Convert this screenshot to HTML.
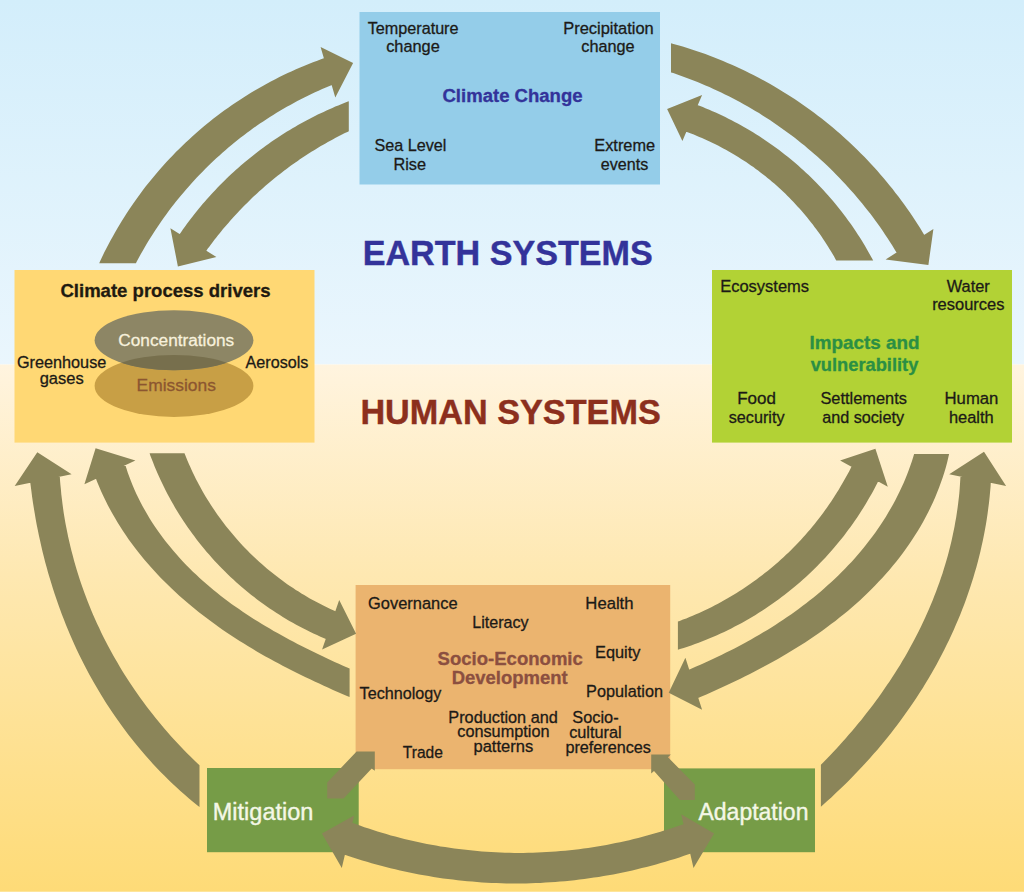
<!DOCTYPE html>
<html><head><meta charset="utf-8"><title>Climate change framework</title>
<style>
html,body{margin:0;padding:0;background:#fff;}
body{width:1024px;height:892px;overflow:hidden;font-family:"Liberation Sans",sans-serif;}
svg{display:block;font-family:"Liberation Sans",sans-serif;}
</style></head><body>
<svg width="1024" height="892" viewBox="0 0 1024 892">
<defs>
<linearGradient id="sky" x1="0" y1="0" x2="0" y2="1">
<stop offset="0" stop-color="#d3eefb"/><stop offset="1" stop-color="#eaf6fd"/>
</linearGradient>
<linearGradient id="sand" x1="0" y1="0" x2="0" y2="1">
<stop offset="0" stop-color="#fff4df"/><stop offset="0.4" stop-color="#fee8b1"/><stop offset="1" stop-color="#fedb77"/>
</linearGradient>
<clipPath id="conc"><ellipse cx="174" cy="340.3" rx="79.4" ry="30"/></clipPath>
</defs>
<rect x="0" y="0" width="1024" height="364.5" fill="url(#sky)"/>
<rect x="0" y="364.5" width="1024" height="527.5" fill="url(#sand)"/>
<rect x="0" y="891" width="1024" height="1" fill="#fee59a"/>
<!-- boxes -->
<rect x="359.5" y="12" width="300.5" height="172.5" fill="#94cde9"/>
<rect x="14.5" y="270" width="300" height="172.6" fill="#ffd874"/>
<rect x="712" y="270" width="300" height="172.6" fill="#b2d235"/>
<rect x="355.6" y="585" width="314.6" height="184.2" fill="#ebb46f"/>
<rect x="207" y="768" width="151.7" height="84.2" fill="#769c47"/>
<rect x="664" y="768.4" width="151" height="83.8" fill="#769c47"/>
<!-- ellipses -->
<ellipse cx="174" cy="385.9" rx="79.4" ry="31" fill="#c89f45"/>
<ellipse cx="174" cy="340.3" rx="79.4" ry="30" fill="#8d8665"/>
<ellipse cx="174" cy="385.9" rx="79.4" ry="31" fill="#776f4d" clip-path="url(#conc)"/>
<!-- arrows -->
<g fill="#8b8559">
<path d="M99.2,263.2 L100.2,260.9 L102.2,256.8 L104.2,252.6 L106.3,248.5 L108.4,244.5 L110.5,240.4 L112.8,236.4 L115.0,232.4 L117.3,228.4 L119.7,224.5 L122.1,220.5 L124.5,216.7 L127.0,212.8 L129.5,209.0 L132.1,205.2 L134.7,201.4 L137.4,197.7 L140.1,193.9 L142.8,190.3 L145.6,186.6 L148.5,183.0 L151.4,179.4 L154.3,175.9 L157.2,172.4 L160.2,168.9 L163.3,165.5 L166.4,162.1 L169.5,158.7 L172.7,155.4 L175.9,152.1 L179.1,148.9 L182.4,145.7 L185.7,142.5 L189.1,139.4 L192.5,136.3 L195.9,133.2 L199.3,130.2 L202.8,127.3 L206.4,124.3 L209.9,121.4 L213.5,118.6 L217.2,115.8 L220.8,113.0 L224.5,110.3 L228.3,107.7 L232.0,105.0 L235.8,102.4 L239.7,99.9 L243.5,97.4 L247.4,95.0 L251.3,92.6 L255.2,90.2 L259.2,87.9 L263.2,85.7 L267.2,83.4 L271.3,81.3 L275.3,79.2 L279.4,77.1 L283.5,75.1 L287.7,73.1 L291.9,71.2 L296.0,69.3 L300.2,67.5 L304.5,65.7 L308.7,64.0 L313.0,62.3 L317.3,60.7 L321.6,59.1 L324.6,58.1 L332.4,84.8 L329.5,86.0 L325.9,87.5 L322.2,89.1 L318.6,90.7 L315.0,92.3 L311.4,94.0 L307.9,95.7 L304.3,97.5 L300.8,99.3 L297.3,101.1 L293.8,103.0 L290.3,104.9 L286.8,106.8 L283.4,108.8 L280.0,110.8 L276.6,112.8 L273.2,114.9 L269.9,117.0 L266.5,119.2 L263.2,121.4 L259.9,123.6 L256.7,125.8 L253.4,128.1 L250.2,130.4 L247.0,132.8 L243.9,135.2 L240.7,137.6 L237.6,140.0 L234.5,142.5 L231.5,145.0 L228.4,147.6 L225.4,150.2 L222.4,152.8 L219.5,155.4 L216.5,158.1 L213.6,160.8 L210.7,163.5 L207.9,166.3 L205.1,169.1 L202.3,171.9 L199.5,174.7 L196.8,177.6 L194.1,180.5 L191.4,183.4 L188.8,186.4 L186.1,189.4 L183.6,192.4 L181.0,195.4 L178.5,198.5 L176.0,201.6 L173.5,204.7 L171.1,207.8 L168.7,211.0 L166.4,214.2 L164.0,217.4 L161.7,220.7 L159.5,223.9 L157.3,227.2 L155.1,230.5 L152.9,233.9 L150.8,237.2 L148.7,240.6 L146.6,244.0 L144.6,247.4 L142.6,250.9 L140.7,254.3 L138.8,257.8 L136.9,261.3 L135.9,263.2Z M320.6,47.0 L353.1,63.0 L335.3,97.5Z"/>
<path d="M348.8,131.2 L347.4,131.9 L344.9,133.1 L342.5,134.3 L340.0,135.6 L337.6,136.8 L335.2,138.1 L332.7,139.4 L330.3,140.7 L327.9,142.0 L325.5,143.4 L323.2,144.7 L320.8,146.1 L318.4,147.5 L316.1,148.9 L313.7,150.4 L311.4,151.8 L309.1,153.3 L306.8,154.8 L304.5,156.3 L302.2,157.8 L299.9,159.3 L297.7,160.9 L295.4,162.4 L293.2,164.0 L291.0,165.6 L288.7,167.2 L286.5,168.9 L284.3,170.5 L282.2,172.2 L280.0,173.9 L277.9,175.6 L275.7,177.3 L273.6,179.0 L271.5,180.8 L269.4,182.5 L267.3,184.3 L265.2,186.1 L263.1,187.9 L261.1,189.7 L259.0,191.5 L257.0,193.4 L255.0,195.3 L253.0,197.1 L251.0,199.0 L249.1,200.9 L247.1,202.9 L245.2,204.8 L243.2,206.7 L241.3,208.7 L239.4,210.7 L237.6,212.7 L235.7,214.7 L233.8,216.7 L232.0,218.8 L230.2,220.8 L228.4,222.9 L226.6,224.9 L224.8,227.0 L223.0,229.1 L221.3,231.3 L219.5,233.4 L217.8,235.5 L216.1,237.7 L214.4,239.8 L212.8,242.0 L211.1,244.2 L209.5,246.4 L207.8,248.6 L206.2,250.9 L205.9,251.4 L179.3,234.7 L179.4,234.5 L181.2,231.9 L183.0,229.3 L184.9,226.7 L186.8,224.1 L188.7,221.5 L190.6,219.0 L192.6,216.5 L194.5,214.0 L196.5,211.5 L198.5,209.0 L200.6,206.5 L202.6,204.1 L204.7,201.7 L206.8,199.3 L208.9,196.9 L211.1,194.5 L213.2,192.2 L215.4,189.9 L217.6,187.5 L219.8,185.3 L222.1,183.0 L224.4,180.7 L226.6,178.5 L228.9,176.3 L231.3,174.1 L233.6,172.0 L236.0,169.8 L238.4,167.7 L240.8,165.6 L243.2,163.5 L245.6,161.5 L248.1,159.4 L250.6,157.4 L253.1,155.4 L255.6,153.5 L258.1,151.5 L260.7,149.6 L263.2,147.7 L265.8,145.8 L268.4,143.9 L271.0,142.1 L273.6,140.3 L276.3,138.5 L279.0,136.8 L281.6,135.0 L284.3,133.3 L287.0,131.6 L289.8,129.9 L292.5,128.3 L295.3,126.7 L298.0,125.1 L300.8,123.5 L303.6,122.0 L306.4,120.4 L309.3,119.0 L312.1,117.5 L315.0,116.0 L317.8,114.6 L320.7,113.2 L323.6,111.9 L326.5,110.5 L329.4,109.2 L332.4,107.9 L335.3,106.6 L338.3,105.4 L341.2,104.2 L344.2,103.0 L347.2,101.8 L348.8,101.2Z M216.4,257.0 L177.9,266.4 L170.4,228.2Z"/>
<path d="M671.0,43.3 L673.5,44.0 L678.1,45.3 L682.7,46.6 L687.3,48.0 L691.8,49.5 L696.3,51.0 L700.9,52.5 L705.4,54.1 L709.8,55.8 L714.3,57.5 L718.7,59.2 L723.1,61.0 L727.5,62.9 L731.9,64.8 L736.3,66.7 L740.6,68.8 L744.9,70.8 L749.2,72.9 L753.4,75.0 L757.7,77.2 L761.9,79.5 L766.1,81.8 L770.2,84.1 L774.4,86.5 L778.5,88.9 L782.5,91.4 L786.6,93.9 L790.6,96.5 L794.6,99.1 L798.6,101.8 L802.5,104.5 L806.4,107.2 L810.3,110.0 L814.1,112.8 L817.9,115.7 L821.7,118.6 L825.4,121.6 L829.1,124.6 L832.8,127.6 L836.5,130.7 L840.1,133.8 L843.6,137.0 L847.2,140.2 L850.7,143.5 L854.1,146.7 L857.5,150.1 L860.9,153.4 L864.3,156.8 L867.6,160.3 L870.8,163.8 L874.1,167.3 L877.3,170.8 L880.4,174.4 L883.5,178.0 L886.6,181.7 L889.6,185.4 L892.6,189.1 L895.5,192.9 L898.4,196.6 L901.3,200.5 L904.1,204.3 L906.9,208.2 L909.6,212.1 L912.3,216.1 L914.9,220.1 L917.5,224.1 L920.1,228.1 L922.6,232.2 L924.6,235.5 L897.0,253.2 L896.8,252.9 L894.5,249.2 L892.3,245.5 L890.0,241.9 L887.6,238.3 L885.2,234.7 L882.8,231.1 L880.4,227.5 L877.9,224.0 L875.3,220.5 L872.8,217.1 L870.2,213.6 L867.5,210.2 L864.9,206.9 L862.2,203.5 L859.4,200.2 L856.7,196.9 L853.8,193.6 L851.0,190.4 L848.1,187.2 L845.2,184.0 L842.3,180.9 L839.3,177.7 L836.3,174.7 L833.2,171.6 L830.2,168.6 L827.1,165.6 L823.9,162.6 L820.8,159.7 L817.6,156.8 L814.3,154.0 L811.1,151.2 L807.8,148.4 L804.5,145.6 L801.1,142.9 L797.8,140.2 L794.4,137.6 L791.0,135.0 L787.5,132.4 L784.0,129.9 L780.5,127.4 L777.0,124.9 L773.4,122.5 L769.9,120.1 L766.2,117.7 L762.6,115.4 L759.0,113.1 L755.3,110.9 L751.6,108.7 L747.9,106.5 L744.1,104.4 L740.3,102.3 L736.5,100.3 L732.7,98.3 L728.9,96.3 L725.0,94.4 L721.2,92.5 L717.3,90.7 L713.4,88.9 L709.4,87.1 L705.5,85.4 L701.5,83.7 L697.5,82.1 L693.5,80.5 L689.5,78.9 L685.5,77.4 L681.4,75.9 L677.3,74.5 L673.3,73.1 L671.0,72.4Z M933.4,228.9 L928.4,265.0 L885.6,259.5Z"/>
<path d="M836.3,260.6 L835.5,259.2 L834.1,256.6 L832.6,254.1 L831.1,251.5 L829.5,249.0 L828.0,246.4 L826.4,243.9 L824.8,241.5 L823.1,239.0 L821.5,236.5 L819.8,234.1 L818.1,231.7 L816.3,229.3 L814.5,226.9 L812.8,224.5 L810.9,222.2 L809.1,219.9 L807.2,217.6 L805.3,215.3 L803.4,213.0 L801.5,210.8 L799.5,208.6 L797.5,206.4 L795.5,204.2 L793.5,202.0 L791.5,199.9 L789.4,197.8 L787.3,195.7 L785.2,193.6 L783.0,191.6 L780.9,189.6 L778.7,187.6 L776.5,185.6 L774.3,183.6 L772.0,181.7 L769.8,179.8 L767.5,177.9 L765.2,176.1 L762.8,174.2 L760.5,172.4 L758.1,170.6 L755.8,168.9 L753.4,167.1 L750.9,165.4 L748.5,163.7 L746.1,162.1 L743.6,160.5 L741.1,158.9 L738.6,157.3 L736.1,155.7 L733.6,154.2 L731.0,152.7 L728.4,151.2 L725.9,149.8 L723.3,148.4 L720.6,147.0 L718.0,145.6 L715.4,144.3 L712.7,143.0 L710.1,141.7 L707.4,140.4 L704.7,139.2 L702.0,138.0 L699.3,136.9 L696.5,135.7 L693.8,134.6 L691.0,133.5 L688.3,132.5 L685.6,131.5 L697.0,104.9 L699.5,105.8 L702.8,107.1 L706.0,108.4 L709.3,109.8 L712.5,111.2 L715.7,112.6 L718.9,114.1 L722.1,115.6 L725.3,117.1 L728.4,118.7 L731.6,120.2 L734.7,121.9 L737.8,123.5 L740.9,125.2 L743.9,127.0 L747.0,128.7 L750.0,130.5 L753.0,132.3 L756.0,134.2 L759.0,136.1 L761.9,138.0 L764.8,139.9 L767.7,141.9 L770.6,143.9 L773.5,146.0 L776.3,148.0 L779.1,150.1 L781.9,152.2 L784.7,154.4 L787.4,156.6 L790.2,158.8 L792.9,161.0 L795.6,163.3 L798.2,165.6 L800.8,167.9 L803.4,170.3 L806.0,172.7 L808.6,175.1 L811.1,177.5 L813.6,180.0 L816.1,182.5 L818.5,185.0 L820.9,187.5 L823.3,190.1 L825.7,192.7 L828.0,195.3 L830.4,197.9 L832.6,200.6 L834.9,203.3 L837.1,206.0 L839.3,208.7 L841.5,211.5 L843.6,214.3 L845.7,217.1 L847.8,219.9 L849.9,222.8 L851.9,225.6 L853.9,228.5 L855.9,231.5 L857.8,234.4 L859.7,237.3 L861.6,240.3 L863.4,243.3 L865.2,246.3 L867.0,249.4 L868.7,252.4 L870.4,255.5 L872.1,258.6 L873.2,260.6Z M682.4,141.1 L667.1,109.0 L702.1,95.1Z"/>
<path d="M184.5,453.3 L185.2,455.0 L186.4,458.0 L187.6,461.1 L188.9,464.1 L190.3,467.1 L191.6,470.1 L193.0,473.0 L194.5,476.0 L195.9,478.9 L197.4,481.8 L199.0,484.8 L200.5,487.6 L202.1,490.5 L203.8,493.4 L205.4,496.2 L207.1,499.0 L208.9,501.8 L210.6,504.6 L212.4,507.3 L214.3,510.0 L216.1,512.7 L218.0,515.4 L219.9,518.1 L221.9,520.7 L223.8,523.3 L225.8,525.9 L227.9,528.5 L230.0,531.1 L232.1,533.6 L234.2,536.1 L236.3,538.6 L238.5,541.0 L240.7,543.5 L243.0,545.9 L245.2,548.2 L247.5,550.6 L249.8,552.9 L252.2,555.2 L254.6,557.5 L257.0,559.7 L259.4,561.9 L261.8,564.1 L264.3,566.3 L266.8,568.4 L269.3,570.5 L271.9,572.6 L274.4,574.6 L277.0,576.6 L279.6,578.6 L282.3,580.6 L284.9,582.5 L287.6,584.4 L290.3,586.2 L293.1,588.1 L295.8,589.9 L298.6,591.6 L301.4,593.4 L304.2,595.1 L307.0,596.7 L309.8,598.4 L312.7,600.0 L315.6,601.5 L318.5,603.1 L321.4,604.6 L324.3,606.1 L327.3,607.5 L330.3,608.9 L333.2,610.3 L336.0,611.5 L326.5,639.2 L324.1,638.2 L320.5,636.7 L317.0,635.1 L313.4,633.4 L309.9,631.8 L306.5,630.1 L303.0,628.3 L299.6,626.5 L296.2,624.7 L292.8,622.8 L289.4,620.9 L286.1,618.9 L282.8,616.9 L279.5,614.8 L276.2,612.8 L272.9,610.6 L269.7,608.5 L266.5,606.3 L263.4,604.0 L260.2,601.8 L257.1,599.4 L254.1,597.1 L251.0,594.7 L248.0,592.3 L245.0,589.8 L242.0,587.3 L239.1,584.8 L236.2,582.2 L233.4,579.6 L230.5,577.0 L227.7,574.3 L225.0,571.6 L222.2,568.8 L219.5,566.1 L216.9,563.2 L214.2,560.4 L211.6,557.5 L209.1,554.6 L206.5,551.7 L204.1,548.7 L201.6,545.7 L199.2,542.7 L196.8,539.7 L194.5,536.6 L192.2,533.5 L189.9,530.3 L187.7,527.2 L185.5,524.0 L183.3,520.8 L181.2,517.5 L179.1,514.3 L177.1,511.0 L175.1,507.7 L173.2,504.3 L171.3,501.0 L169.4,497.6 L167.6,494.2 L165.8,490.7 L164.1,487.3 L162.4,483.8 L160.7,480.3 L159.1,476.8 L157.5,473.3 L156.0,469.7 L154.5,466.2 L153.1,462.6 L151.7,459.0 L150.3,455.4 L149.6,453.3Z M339.2,599.9 L356.1,633.8 L322.1,649.5Z"/>
<path d="M349.6,697.1 L347.0,696.0 L342.3,693.9 L337.7,691.9 L333.0,689.9 L328.4,687.8 L323.8,685.7 L319.2,683.6 L314.6,681.5 L310.1,679.3 L305.6,677.2 L301.0,675.0 L296.5,672.8 L292.0,670.5 L287.6,668.2 L283.1,665.9 L278.7,663.6 L274.3,661.2 L269.9,658.8 L265.5,656.4 L261.1,653.9 L256.8,651.4 L252.5,648.8 L248.2,646.2 L243.9,643.6 L239.6,641.0 L235.4,638.3 L231.2,635.5 L227.0,632.7 L222.9,629.9 L218.7,627.0 L214.7,624.1 L210.6,621.1 L206.6,618.1 L202.6,615.1 L198.6,611.9 L194.7,608.8 L190.8,605.6 L186.9,602.3 L183.1,599.0 L179.3,595.7 L175.6,592.3 L171.9,588.8 L168.3,585.3 L164.7,581.8 L161.1,578.2 L157.6,574.5 L154.2,570.8 L150.8,567.1 L147.5,563.2 L144.2,559.4 L141.0,555.5 L137.8,551.5 L134.7,547.5 L131.7,543.5 L128.7,539.4 L125.9,535.2 L123.0,531.0 L120.3,526.8 L117.6,522.5 L115.0,518.1 L112.5,513.7 L110.0,509.3 L107.7,504.9 L105.4,500.3 L103.2,495.8 L101.1,491.2 L99.1,486.6 L97.2,481.9 L95.7,478.1 L125.2,464.4 L126.4,468.3 L127.8,472.7 L129.4,477.0 L131.0,481.3 L132.7,485.6 L134.5,489.8 L136.4,494.0 L138.4,498.1 L140.5,502.2 L142.6,506.3 L144.9,510.3 L147.2,514.3 L149.5,518.3 L152.0,522.2 L154.5,526.0 L157.1,529.8 L159.8,533.6 L162.5,537.3 L165.3,541.0 L168.2,544.6 L171.1,548.1 L174.0,551.6 L177.1,555.1 L180.1,558.5 L183.3,561.9 L186.4,565.2 L189.7,568.5 L192.9,571.7 L196.3,574.8 L199.6,578.0 L203.0,581.0 L206.5,584.1 L210.0,587.0 L213.5,589.9 L217.0,592.8 L220.6,595.7 L224.2,598.4 L227.9,601.2 L231.5,603.9 L235.2,606.5 L239.0,609.1 L242.7,611.7 L246.5,614.2 L250.3,616.7 L254.1,619.2 L258.0,621.6 L261.9,624.0 L265.7,626.3 L269.7,628.6 L273.6,630.9 L277.5,633.1 L281.5,635.3 L285.5,637.5 L289.5,639.7 L293.5,641.8 L297.5,643.9 L301.6,646.0 L305.6,648.0 L309.7,650.1 L313.8,652.1 L317.9,654.1 L322.1,656.0 L326.2,658.0 L330.4,659.9 L334.6,661.9 L338.8,663.8 L343.0,665.7 L347.2,667.6 L349.6,668.6Z M84.4,484.2 L95.6,448.2 L135.4,460.6Z"/>
<path d="M199.5,807.0 L197.2,805.2 L192.9,801.7 L188.7,798.2 L184.5,794.6 L180.4,790.9 L176.4,787.2 L172.3,783.5 L168.4,779.7 L164.5,775.8 L160.6,771.9 L156.8,767.9 L153.0,763.9 L149.3,759.8 L145.7,755.7 L142.1,751.5 L138.5,747.3 L135.0,743.1 L131.6,738.8 L128.2,734.4 L124.9,730.0 L121.6,725.6 L118.4,721.1 L115.2,716.6 L112.1,712.1 L109.1,707.5 L106.1,702.9 L103.2,698.2 L100.3,693.5 L97.5,688.8 L94.7,684.1 L92.0,679.3 L89.3,674.4 L86.7,669.6 L84.2,664.7 L81.7,659.8 L79.3,654.9 L76.9,649.9 L74.6,644.9 L72.4,639.9 L70.2,634.9 L68.0,629.8 L65.9,624.7 L63.9,619.6 L61.9,614.5 L60.0,609.3 L58.2,604.2 L56.4,599.0 L54.6,593.8 L52.9,588.6 L51.3,583.3 L49.7,578.1 L48.1,572.8 L46.7,567.5 L45.2,562.2 L43.9,556.9 L42.5,551.5 L41.3,546.2 L40.1,540.8 L38.9,535.5 L37.8,530.1 L36.7,524.7 L35.7,519.3 L34.8,513.8 L33.9,508.4 L33.0,503.0 L32.2,497.5 L31.5,492.1 L30.8,486.6 L30.2,482.1 L59.8,475.9 L60.0,480.0 L60.4,484.7 L60.9,489.5 L61.3,494.3 L61.9,499.1 L62.5,503.9 L63.1,508.6 L63.8,513.4 L64.6,518.2 L65.4,522.9 L66.3,527.6 L67.3,532.4 L68.2,537.1 L69.3,541.8 L70.4,546.5 L71.5,551.1 L72.8,555.8 L74.0,560.4 L75.3,565.1 L76.7,569.7 L78.1,574.3 L79.6,578.9 L81.1,583.5 L82.7,588.0 L84.3,592.5 L86.0,597.1 L87.7,601.5 L89.5,606.0 L91.3,610.5 L93.2,614.9 L95.1,619.3 L97.1,623.7 L99.2,628.1 L101.2,632.4 L103.3,636.7 L105.5,641.0 L107.7,645.3 L110.0,649.6 L112.3,653.8 L114.7,658.0 L117.1,662.1 L119.5,666.3 L122.0,670.4 L124.5,674.5 L127.1,678.6 L129.7,682.6 L132.4,686.6 L135.1,690.6 L137.9,694.5 L140.7,698.4 L143.5,702.3 L146.4,706.2 L149.3,710.0 L152.3,713.8 L155.2,717.6 L158.3,721.3 L161.4,725.0 L164.5,728.7 L167.6,732.3 L170.8,735.9 L174.0,739.5 L177.3,743.0 L180.6,746.5 L183.9,750.0 L187.3,753.4 L190.7,756.8 L194.2,760.2 L197.6,763.5 L199.5,765.3Z M14.7,486.1 L37.3,452.2 L71.6,474.3Z"/>
<path d="M677.9,621.5 L679.7,620.9 L683.0,619.6 L686.3,618.4 L689.5,617.1 L692.7,615.7 L696.0,614.3 L699.2,612.9 L702.3,611.5 L705.5,610.0 L708.7,608.4 L711.8,606.9 L714.9,605.3 L718.0,603.7 L721.1,602.0 L724.1,600.3 L727.2,598.6 L730.2,596.8 L733.2,595.0 L736.2,593.2 L739.2,591.3 L742.1,589.4 L745.0,587.5 L747.9,585.5 L750.8,583.5 L753.6,581.5 L756.5,579.4 L759.3,577.3 L762.1,575.2 L764.8,573.1 L767.6,570.9 L770.3,568.7 L773.0,566.4 L775.6,564.2 L778.3,561.9 L780.9,559.5 L783.5,557.2 L786.0,554.8 L788.6,552.4 L791.1,549.9 L793.5,547.4 L796.0,544.9 L798.4,542.4 L800.8,539.9 L803.2,537.3 L805.5,534.7 L807.8,532.0 L810.1,529.4 L812.3,526.7 L814.6,524.0 L816.7,521.2 L818.9,518.5 L821.0,515.7 L823.1,512.9 L825.2,510.1 L827.2,507.2 L829.2,504.3 L831.2,501.4 L833.1,498.5 L835.0,495.6 L836.9,492.6 L838.7,489.7 L840.5,486.6 L842.3,483.6 L844.0,480.6 L845.7,477.5 L847.4,474.4 L849.1,471.4 L850.7,468.2 L851.7,466.1 L878.5,480.7 L877.2,483.2 L875.4,486.7 L873.6,490.2 L871.7,493.7 L869.7,497.1 L867.7,500.5 L865.7,503.9 L863.7,507.3 L861.6,510.6 L859.4,513.9 L857.3,517.2 L855.0,520.5 L852.8,523.7 L850.5,526.9 L848.1,530.1 L845.8,533.2 L843.4,536.4 L840.9,539.5 L838.4,542.5 L835.9,545.6 L833.4,548.6 L830.8,551.5 L828.1,554.5 L825.5,557.4 L822.8,560.3 L820.1,563.1 L817.3,566.0 L814.5,568.7 L811.7,571.5 L808.8,574.2 L805.9,576.9 L803.0,579.6 L800.0,582.2 L797.0,584.7 L794.0,587.3 L790.9,589.8 L787.8,592.3 L784.7,594.7 L781.6,597.1 L778.4,599.5 L775.2,601.8 L772.0,604.1 L768.7,606.3 L765.5,608.5 L762.1,610.7 L758.8,612.8 L755.5,614.9 L752.1,617.0 L748.7,619.0 L745.2,620.9 L741.8,622.9 L738.3,624.8 L734.8,626.6 L731.3,628.4 L727.7,630.2 L724.2,631.9 L720.6,633.6 L717.0,635.2 L713.4,636.8 L709.7,638.3 L706.1,639.8 L702.4,641.3 L698.7,642.7 L695.0,644.1 L691.2,645.4 L687.5,646.7 L683.7,647.9 L680.0,649.1 L677.9,649.8Z M840.1,460.6 L875.4,448.8 L887.8,486.7Z"/>
<path d="M949.1,454.0 L948.4,457.0 L947.2,462.2 L945.8,467.4 L944.3,472.5 L942.7,477.6 L940.9,482.6 L939.1,487.6 L937.1,492.6 L935.1,497.5 L932.9,502.4 L930.6,507.3 L928.3,512.1 L925.8,516.8 L923.3,521.5 L920.6,526.2 L917.9,530.8 L915.0,535.3 L912.1,539.8 L909.1,544.3 L906.1,548.6 L902.9,553.0 L899.7,557.2 L896.4,561.5 L893.0,565.6 L889.6,569.7 L886.0,573.7 L882.5,577.7 L878.8,581.6 L875.1,585.5 L871.4,589.3 L867.6,593.1 L863.7,596.7 L859.8,600.4 L855.8,603.9 L851.8,607.4 L847.8,610.9 L843.7,614.3 L839.5,617.6 L835.4,620.9 L831.1,624.1 L826.9,627.3 L822.6,630.4 L818.3,633.5 L813.9,636.5 L809.5,639.5 L805.1,642.4 L800.6,645.2 L796.1,648.1 L791.6,650.8 L787.1,653.6 L782.5,656.2 L777.9,658.9 L773.3,661.5 L768.7,664.1 L764.0,666.6 L759.3,669.1 L754.6,671.5 L749.9,673.9 L745.2,676.3 L740.4,678.7 L735.6,681.0 L730.8,683.3 L726.0,685.6 L721.1,687.8 L716.2,690.0 L711.3,692.2 L706.4,694.4 L701.5,696.6 L697.5,698.2 L688.4,669.9 L691.7,668.5 L696.1,666.6 L700.4,664.7 L704.8,662.8 L709.1,660.8 L713.4,658.8 L717.6,656.8 L721.9,654.7 L726.1,652.6 L730.4,650.5 L734.5,648.4 L738.7,646.2 L742.9,644.0 L747.0,641.7 L751.1,639.4 L755.2,637.1 L759.3,634.7 L763.3,632.3 L767.4,629.9 L771.4,627.4 L775.3,624.9 L779.3,622.3 L783.2,619.7 L787.1,617.1 L791.0,614.4 L794.8,611.7 L798.6,608.9 L802.4,606.1 L806.2,603.2 L809.9,600.3 L813.6,597.4 L817.2,594.4 L820.8,591.4 L824.4,588.3 L827.9,585.1 L831.4,581.9 L834.9,578.7 L838.3,575.4 L841.7,572.1 L845.0,568.7 L848.2,565.3 L851.5,561.9 L854.6,558.4 L857.8,554.8 L860.8,551.2 L863.9,547.5 L866.8,543.8 L869.7,540.1 L872.6,536.3 L875.4,532.5 L878.1,528.6 L880.7,524.7 L883.3,520.7 L885.9,516.7 L888.3,512.6 L890.7,508.6 L893.0,504.4 L895.3,500.3 L897.4,496.0 L899.5,491.8 L901.5,487.5 L903.5,483.2 L905.3,478.9 L907.1,474.5 L908.8,470.1 L910.4,465.6 L911.9,461.2 L913.3,456.7 L914.1,454.0Z M702.1,709.8 L668.7,692.7 L685.4,657.8Z"/>
<path d="M820.9,764.7 L822.7,762.9 L826.1,759.4 L829.5,756.0 L832.8,752.5 L836.1,749.0 L839.3,745.4 L842.6,741.8 L845.8,738.2 L848.9,734.6 L852.1,731.0 L855.2,727.3 L858.2,723.6 L861.3,719.9 L864.3,716.1 L867.2,712.3 L870.2,708.5 L873.1,704.7 L876.0,700.8 L878.8,697.0 L881.6,693.0 L884.3,689.1 L887.0,685.1 L889.7,681.2 L892.4,677.1 L895.0,673.1 L897.5,669.0 L900.1,664.9 L902.5,660.8 L905.0,656.7 L907.4,652.5 L909.7,648.3 L912.0,644.1 L914.3,639.8 L916.5,635.6 L918.7,631.3 L920.8,626.9 L922.9,622.6 L924.9,618.2 L926.9,613.8 L928.8,609.4 L930.7,605.0 L932.6,600.5 L934.3,596.1 L936.1,591.6 L937.7,587.0 L939.4,582.5 L940.9,578.0 L942.5,573.4 L943.9,568.8 L945.3,564.2 L946.7,559.5 L948.0,554.9 L949.2,550.2 L950.4,545.6 L951.5,540.9 L952.5,536.2 L953.5,531.4 L954.5,526.7 L955.3,522.0 L956.2,517.2 L956.9,512.5 L957.6,507.7 L958.2,502.9 L958.8,498.1 L959.3,493.4 L959.7,488.6 L960.0,483.8 L960.3,479.0 L960.5,475.8 L990.8,482.1 L990.6,486.2 L990.1,491.7 L989.6,497.2 L989.0,502.7 L988.3,508.1 L987.6,513.6 L986.8,519.0 L985.9,524.5 L984.9,529.9 L983.9,535.3 L982.8,540.7 L981.6,546.1 L980.4,551.5 L979.1,556.8 L977.7,562.2 L976.3,567.5 L974.7,572.8 L973.2,578.1 L971.5,583.3 L969.8,588.6 L968.0,593.8 L966.2,599.0 L964.3,604.2 L962.3,609.3 L960.3,614.4 L958.2,619.5 L956.0,624.6 L953.8,629.7 L951.5,634.7 L949.2,639.7 L946.8,644.6 L944.4,649.6 L941.8,654.5 L939.3,659.3 L936.7,664.2 L934.0,669.0 L931.3,673.8 L928.5,678.5 L925.6,683.2 L922.8,687.9 L919.8,692.6 L916.8,697.2 L913.8,701.8 L910.7,706.3 L907.5,710.8 L904.3,715.3 L901.1,719.8 L897.8,724.2 L894.5,728.6 L891.1,732.9 L887.7,737.2 L884.2,741.5 L880.7,745.7 L877.2,749.9 L873.5,754.1 L869.9,758.2 L866.2,762.3 L862.5,766.3 L858.7,770.3 L854.9,774.3 L851.1,778.2 L847.2,782.2 L843.3,786.0 L839.3,789.8 L835.3,793.6 L831.3,797.4 L827.2,801.1 L823.1,804.8 L820.9,806.7Z M949.2,474.3 L984.0,451.8 L1006.1,486.1Z"/>
<path d="M351.6,822.6 L355.6,824.1 L359.9,825.6 L364.3,827.2 L368.7,828.6 L373.1,830.1 L377.5,831.5 L381.9,832.8 L386.4,834.1 L390.8,835.4 L395.3,836.6 L399.8,837.8 L404.3,838.9 L408.8,840.0 L413.3,841.0 L417.8,842.0 L422.3,843.0 L426.9,843.9 L431.4,844.8 L436.0,845.6 L440.5,846.4 L445.1,847.1 L449.7,847.8 L454.3,848.4 L458.9,849.1 L463.5,849.6 L468.1,850.1 L472.7,850.6 L477.3,851.0 L481.9,851.4 L486.5,851.8 L491.1,852.0 L495.8,852.3 L500.4,852.5 L505.0,852.7 L509.6,852.8 L514.3,852.9 L518.9,852.9 L523.5,852.9 L528.2,852.8 L532.8,852.7 L537.4,852.5 L542.1,852.3 L546.7,852.1 L551.3,851.8 L555.9,851.5 L560.6,851.1 L565.2,850.7 L569.8,850.2 L574.4,849.7 L579.0,849.2 L583.6,848.6 L588.2,847.9 L592.8,847.2 L597.3,846.5 L601.9,845.7 L606.5,844.9 L611.0,844.1 L615.6,843.1 L620.1,842.2 L624.6,841.2 L629.2,840.2 L633.7,839.1 L638.2,838.0 L642.7,836.8 L647.1,835.6 L651.6,834.3 L656.0,833.0 L660.5,831.7 L664.9,830.3 L669.3,828.9 L673.7,827.4 L678.1,825.9 L682.5,824.4 L684.2,823.7 L691.0,853.4 L688.6,854.2 L684.0,855.8 L679.4,857.4 L674.7,858.9 L670.0,860.3 L665.4,861.7 L660.7,863.1 L656.0,864.4 L651.3,865.7 L646.6,866.9 L641.8,868.1 L637.1,869.3 L632.3,870.4 L627.6,871.5 L622.8,872.5 L618.0,873.4 L613.2,874.4 L608.4,875.3 L603.6,876.1 L598.8,876.9 L594.0,877.6 L589.1,878.3 L584.3,879.0 L579.4,879.6 L574.6,880.2 L569.7,880.7 L564.9,881.2 L560.0,881.6 L555.2,882.0 L550.3,882.3 L545.4,882.6 L540.5,882.9 L535.7,883.1 L530.8,883.3 L525.9,883.4 L521.0,883.4 L516.1,883.5 L511.3,883.4 L506.4,883.4 L501.5,883.3 L496.6,883.1 L491.7,882.9 L486.9,882.7 L482.0,882.4 L477.1,882.0 L472.3,881.6 L467.4,881.2 L462.6,880.7 L457.7,880.2 L452.9,879.6 L448.0,879.0 L443.2,878.4 L438.3,877.7 L433.5,876.9 L428.7,876.1 L423.9,875.3 L419.1,874.4 L414.3,873.5 L409.5,872.5 L404.8,871.5 L400.0,870.4 L395.2,869.3 L390.5,868.2 L385.8,867.0 L381.1,865.8 L376.3,864.5 L371.6,863.2 L367.0,861.8 L362.3,860.4 L357.6,858.9 L353.0,857.4 L348.4,855.9 L344.1,854.4Z M341.8,867.9 L321.9,833.5 L354.1,815.6Z M681.2,814.2 L714.1,833.5 L693.5,867.9Z"/>
<path d="M356.6,751.4 L374.8,751.4 L374.8,770.8 L371.7,768.5 L343.6,798.6 L327.2,798.6 L327.2,782.6Z"/>
<path d="M651.2,754.5 L670.8,754.5 L668.0,757.3 L694.8,784.5 L694.8,799.9 L679.9,799.9 L654.0,771.0 L651.2,773.6Z"/>
</g>
<g>
<text x="367.68" y="34.2" font-size="16.7" fill="#1c1a17" stroke="#1c1a17" stroke-width="0.30" textLength="90.85" lengthAdjust="spacingAndGlyphs">Temperature</text>
<text x="386.15" y="52.3" font-size="16.7" fill="#1c1a17" stroke="#1c1a17" stroke-width="0.30" textLength="53.62" lengthAdjust="spacingAndGlyphs">change</text>
<text x="563.18" y="34.2" font-size="16.7" fill="#1c1a17" stroke="#1c1a17" stroke-width="0.30" textLength="90.56" lengthAdjust="spacingAndGlyphs">Precipitation</text>
<text x="581.35" y="52.3" font-size="16.7" fill="#1c1a17" stroke="#1c1a17" stroke-width="0.30" textLength="53.31" lengthAdjust="spacingAndGlyphs">change</text>
<text x="442.46" y="101.8" font-size="17.5" font-weight="bold" fill="#33339a" stroke="#33339a" stroke-width="0.30" textLength="140.14" lengthAdjust="spacingAndGlyphs">Climate Change</text>
<text x="374.47" y="151.4" font-size="16.7" fill="#1c1a17" stroke="#1c1a17" stroke-width="0.30" textLength="71.84" lengthAdjust="spacingAndGlyphs">Sea Level</text>
<text x="393.39" y="169.9" font-size="16.7" fill="#1c1a17" stroke="#1c1a17" stroke-width="0.30" textLength="32.67" lengthAdjust="spacingAndGlyphs">Rise</text>
<text x="594.29" y="151.4" font-size="16.7" fill="#1c1a17" stroke="#1c1a17" stroke-width="0.30" textLength="60.81" lengthAdjust="spacingAndGlyphs">Extreme</text>
<text x="600.76" y="169.9" font-size="16.7" fill="#1c1a17" stroke="#1c1a17" stroke-width="0.30" textLength="47.43" lengthAdjust="spacingAndGlyphs">events</text>
<text x="362.68" y="264.8" font-size="34.4" font-weight="bold" fill="#33339a" stroke="#33339a" stroke-width="0.40" textLength="289.96" lengthAdjust="spacingAndGlyphs">EARTH SYSTEMS</text>
<text x="360.38" y="423.5" font-size="34.4" font-weight="bold" fill="#8c2f1d" stroke="#8c2f1d" stroke-width="0.40" textLength="300.35" lengthAdjust="spacingAndGlyphs">HUMAN SYSTEMS</text>
<text x="60.46" y="296.9" font-size="17.8" font-weight="bold" fill="#1f1a10" stroke="#1f1a10" stroke-width="0.30" textLength="210.17" lengthAdjust="spacingAndGlyphs">Climate process drivers</text>
<text x="118.34" y="345.9" font-size="17.3" fill="#f7f1dc" stroke="#f7f1dc" stroke-width="0.30" textLength="115.89" lengthAdjust="spacingAndGlyphs">Concentrations</text>
<text x="136.61" y="391.0" font-size="17.3" fill="#8c5630" stroke="#8c5630" stroke-width="0.30" textLength="79.33" lengthAdjust="spacingAndGlyphs">Emissions</text>
<text x="16.89" y="368.4" font-size="16.7" fill="#1c1a17" stroke="#1c1a17" stroke-width="0.30" textLength="89.45" lengthAdjust="spacingAndGlyphs">Greenhouse</text>
<text x="39.64" y="383.8" font-size="16.7" fill="#1c1a17" stroke="#1c1a17" stroke-width="0.30" textLength="44.01" lengthAdjust="spacingAndGlyphs">gases</text>
<text x="245.60" y="368.4" font-size="16.7" fill="#1c1a17" stroke="#1c1a17" stroke-width="0.30" textLength="62.78" lengthAdjust="spacingAndGlyphs">Aerosols</text>
<text x="720.18" y="292.0" font-size="16.7" fill="#1c1a17" stroke="#1c1a17" stroke-width="0.30" textLength="88.90" lengthAdjust="spacingAndGlyphs">Ecosystems</text>
<text x="946.80" y="292.0" font-size="16.7" fill="#1c1a17" stroke="#1c1a17" stroke-width="0.30" textLength="42.94" lengthAdjust="spacingAndGlyphs">Water</text>
<text x="932.13" y="310.4" font-size="16.7" fill="#1c1a17" stroke="#1c1a17" stroke-width="0.30" textLength="72.26" lengthAdjust="spacingAndGlyphs">resources</text>
<text x="809.47" y="349.3" font-size="17.8" font-weight="bold" fill="#2b8f44" stroke="#2b8f44" stroke-width="0.30" textLength="110.05" lengthAdjust="spacingAndGlyphs">Impacts and</text>
<text x="810.70" y="370.5" font-size="17.8" font-weight="bold" fill="#2b8f44" stroke="#2b8f44" stroke-width="0.30" textLength="107.61" lengthAdjust="spacingAndGlyphs">vulnerability</text>
<text x="737.24" y="404.3" font-size="16.7" fill="#1c1a17" stroke="#1c1a17" stroke-width="0.30" textLength="38.77" lengthAdjust="spacingAndGlyphs">Food</text>
<text x="728.70" y="422.7" font-size="16.7" fill="#1c1a17" stroke="#1c1a17" stroke-width="0.30" textLength="55.81" lengthAdjust="spacingAndGlyphs">security</text>
<text x="820.46" y="404.3" font-size="16.7" fill="#1c1a17" stroke="#1c1a17" stroke-width="0.30" textLength="86.42" lengthAdjust="spacingAndGlyphs">Settlements</text>
<text x="822.15" y="422.7" font-size="16.7" fill="#1c1a17" stroke="#1c1a17" stroke-width="0.30" textLength="81.93" lengthAdjust="spacingAndGlyphs">and society</text>
<text x="944.56" y="404.3" font-size="16.7" fill="#1c1a17" stroke="#1c1a17" stroke-width="0.30" textLength="53.82" lengthAdjust="spacingAndGlyphs">Human</text>
<text x="948.93" y="422.7" font-size="16.7" fill="#1c1a17" stroke="#1c1a17" stroke-width="0.30" textLength="44.75" lengthAdjust="spacingAndGlyphs">health</text>
<text x="368.08" y="609.0" font-size="16.7" fill="#1c1a17" stroke="#1c1a17" stroke-width="0.30" textLength="89.53" lengthAdjust="spacingAndGlyphs">Governance</text>
<text x="585.37" y="609.0" font-size="16.7" fill="#1c1a17" stroke="#1c1a17" stroke-width="0.30" textLength="48.14" lengthAdjust="spacingAndGlyphs">Health</text>
<text x="472.21" y="627.9" font-size="16.7" fill="#1c1a17" stroke="#1c1a17" stroke-width="0.30" textLength="56.41" lengthAdjust="spacingAndGlyphs">Literacy</text>
<text x="437.54" y="664.8" font-size="18.0" font-weight="bold" fill="#8b4f40" stroke="#8b4f40" stroke-width="0.30" textLength="145.32" lengthAdjust="spacingAndGlyphs">Socio-Economic</text>
<text x="451.70" y="684.4" font-size="18.0" font-weight="bold" fill="#8b4f40" stroke="#8b4f40" stroke-width="0.30" textLength="115.87" lengthAdjust="spacingAndGlyphs">Development</text>
<text x="594.99" y="657.8" font-size="16.7" fill="#1c1a17" stroke="#1c1a17" stroke-width="0.30" textLength="45.50" lengthAdjust="spacingAndGlyphs">Equity</text>
<text x="359.58" y="698.6" font-size="16.7" fill="#1c1a17" stroke="#1c1a17" stroke-width="0.30" textLength="81.71" lengthAdjust="spacingAndGlyphs">Technology</text>
<text x="586.10" y="697.0" font-size="16.7" fill="#1c1a17" stroke="#1c1a17" stroke-width="0.30" textLength="76.90" lengthAdjust="spacingAndGlyphs">Population</text>
<text x="448.30" y="722.9" font-size="16.7" fill="#1c1a17" stroke="#1c1a17" stroke-width="0.30" textLength="109.52" lengthAdjust="spacingAndGlyphs">Production and</text>
<text x="457.25" y="736.7" font-size="16.7" fill="#1c1a17" stroke="#1c1a17" stroke-width="0.30" textLength="92.23" lengthAdjust="spacingAndGlyphs">consumption</text>
<text x="473.51" y="751.8" font-size="16.7" fill="#1c1a17" stroke="#1c1a17" stroke-width="0.30" textLength="59.64" lengthAdjust="spacingAndGlyphs">patterns</text>
<text x="572.37" y="723.2" font-size="16.7" fill="#1c1a17" stroke="#1c1a17" stroke-width="0.30" textLength="46.26" lengthAdjust="spacingAndGlyphs">Socio-</text>
<text x="569.15" y="737.8" font-size="16.7" fill="#1c1a17" stroke="#1c1a17" stroke-width="0.30" textLength="52.49" lengthAdjust="spacingAndGlyphs">cultural</text>
<text x="565.43" y="752.8" font-size="16.7" fill="#1c1a17" stroke="#1c1a17" stroke-width="0.30" textLength="85.55" lengthAdjust="spacingAndGlyphs">preferences</text>
<text x="402.79" y="757.7" font-size="16.7" fill="#1c1a17" stroke="#1c1a17" stroke-width="0.30" textLength="40.14" lengthAdjust="spacingAndGlyphs">Trade</text>
<text x="212.82" y="820.3" font-size="23.5" fill="#f4f7e6" stroke="#f4f7e6" stroke-width="0.40" textLength="100.49" lengthAdjust="spacingAndGlyphs">Mitigation</text>
<text x="698.50" y="820.3" font-size="23.5" fill="#f4f7e6" stroke="#f4f7e6" stroke-width="0.40" textLength="109.92" lengthAdjust="spacingAndGlyphs">Adaptation</text>
</g>
</svg>
</body></html>
